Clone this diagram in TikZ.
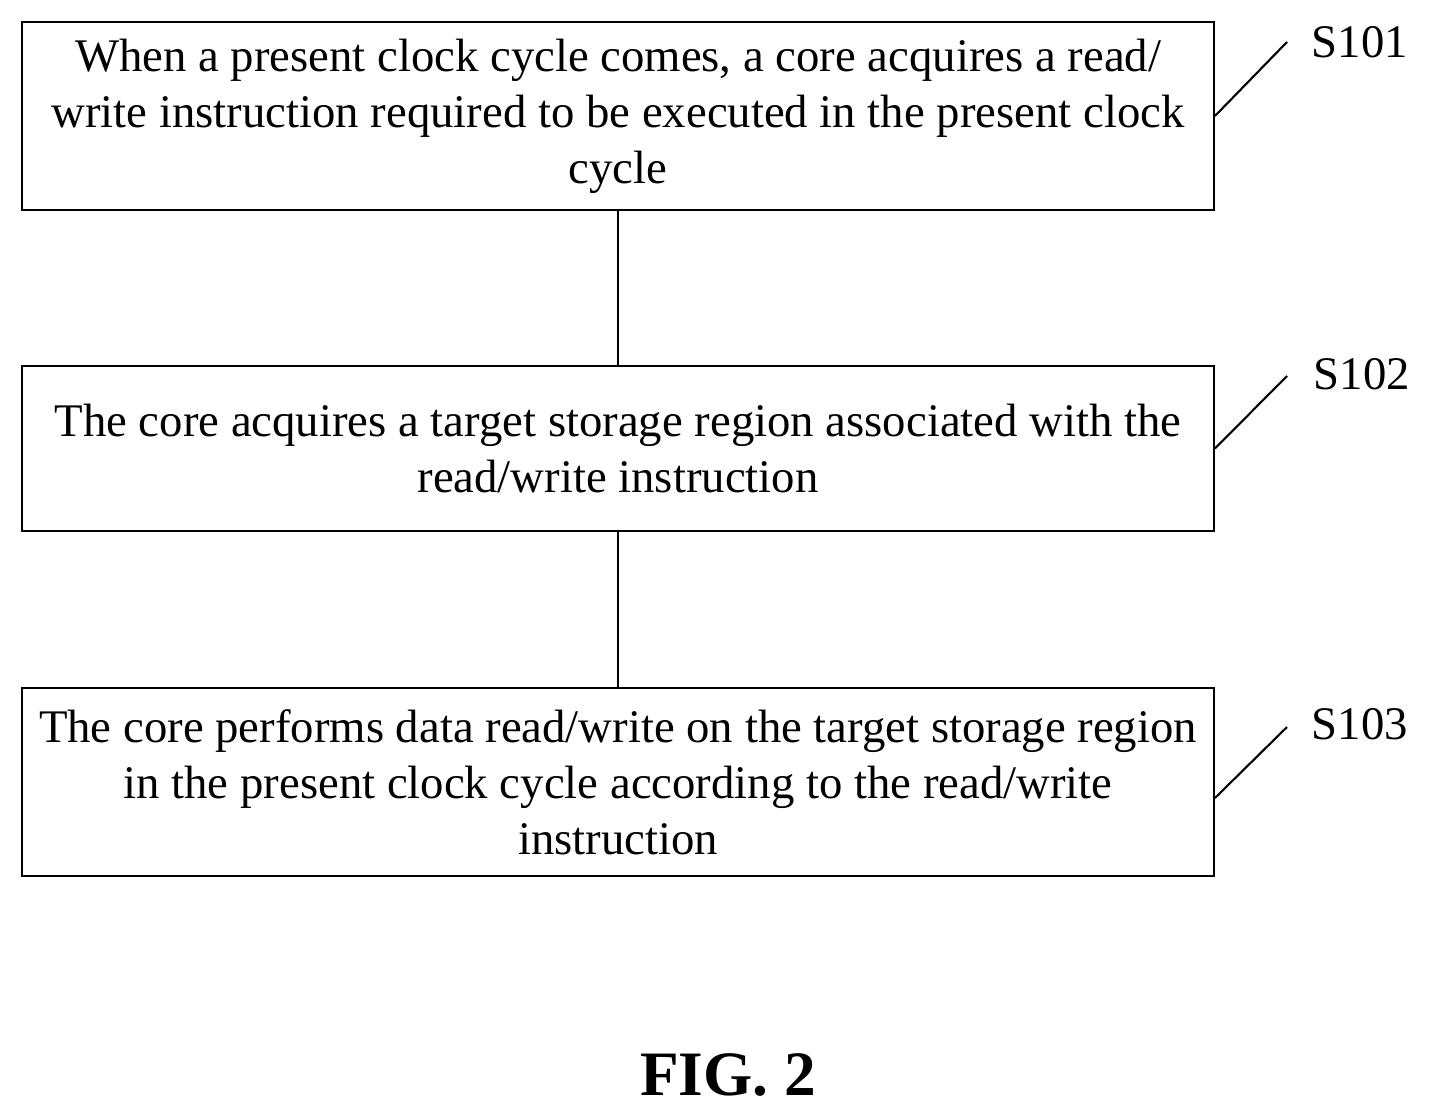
\documentclass[tikz,border=0pt]{standalone}
\usepackage{fontspec}
\setmainfont{Liberation Serif}
\usetikzlibrary{positioning}

\begin{document}
\begin{tikzpicture}[x=0.02cm,y=-0.02cm,
  stepbox/.style={draw,line width=1.2pt,minimum width=23.84cm,align=center,
    font=\fontsize{26.6}{31.8}\selectfont,inner sep=0pt},
  tag/.style={font=\fontsize{26.6}{30}\selectfont,anchor=center},
  lead/.style={line width=1.2pt}]
 \useasboundingbox (0,0) rectangle (1429,1117);

 \node[stepbox,minimum height=3.76cm] (s1) at (618,116)
  {When a present clock cycle comes, a core acquires a read/\\
   write instruction required to be executed in the present clock\\cycle};
 \node[stepbox,minimum height=3.3cm] (s2) at (618,448.5)
  {The core acquires a target storage region associated with the\\
   read/write instruction};
 \node[stepbox,minimum height=3.76cm] (s3) at (618,782)
  {The core performs data read/write on the target storage region\\
   in the present clock cycle according to the read/write\\instruction};

 % step labels
 \node[tag] (t1) at (1360,42) {S101};
 \node[tag] (t2) at (1362,374) {S102};
 \node[tag] (t3) at (1360,724) {S103};
 \coordinate (c1) at (1287,42);
 \coordinate (c2) at (1287,376);
 \coordinate (c3) at (1287,727);
 \draw[lead] (s1.east) -- (c1);
 \draw[lead] (s2.east) -- (c2);
 \draw[lead] ([yshift=-0.32cm]s3.east) -- (c3);

 % connectors
 \draw[lead] (s1) -- (s2);
 \draw[lead] (s2) -- (s3);

 \node[font=\fontsize{36}{40}\selectfont\bfseries] (fig) at (728,1075) {FIG. 2};
\end{tikzpicture}
\end{document}
